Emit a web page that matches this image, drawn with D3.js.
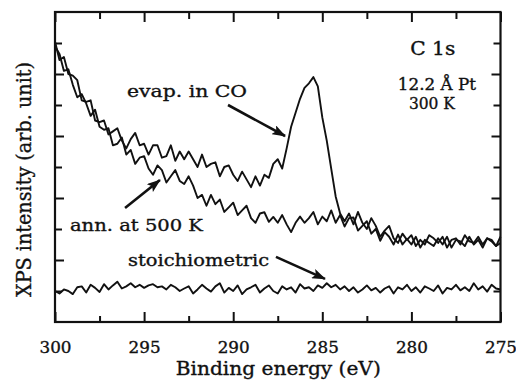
<!DOCTYPE html>
<html>
<head>
<meta charset="utf-8">
<script src="https://cdnjs.cloudflare.com/ajax/libs/d3/7.8.5/d3.min.js"></script>
<style>
  body { margin: 0; background: #fff; }
  svg text { font-family: "DejaVu Serif", "Liberation Serif", serif; fill: #111; stroke: #111; stroke-width: 0.35px; }
</style>
</head>
<body>
<div id="chart"></div>
<script>
// Chart size
var svgWidth = 516;
var svgHeight = 383;

var margin = { top: 12, right: 15.5, bottom: 61, left: 55 };
var width = svgWidth - margin.left - margin.right;
var height = svgHeight - margin.top - margin.bottom;

var serif = '"DejaVu Serif", "Liberation Serif", serif';

// Binding energy grid: 300 eV down to 275 eV, 0.25 eV step
var eStart = 300;
var eStep = 0.25;

// C 1s spectra (arb. units)
var evapCO = [
  9.05, 8.45, 8.55, 8.0, 7.95, 7.8, 7.15, 7.1, 7.15, 6.5,
  6.45, 6.5, 6.05, 6.15, 6.25, 5.85, 5.6, 5.9, 6.1, 5.7,
  5.75, 5.4, 5.7, 5.7, 5.3, 5.35, 5.7, 5.2, 5.5, 5.25,
  5.5, 5.25, 5.0, 5.4, 5.0, 5.1, 5.15, 4.7, 5.0, 5.05,
  4.75, 4.55, 4.85, 4.6, 4.35, 4.7, 4.4, 4.75, 4.65, 5.1,
  5.25, 4.95, 5.6, 6.3, 6.75, 7.2, 7.55, 7.7, 7.9, 7.6,
  6.6, 5.85, 4.95, 4.05, 3.5, 3.25, 3.5, 3.15, 3.55, 3.2,
  3.0, 3.35, 3.1, 2.75, 2.95, 3.1, 2.7, 2.55, 2.85, 2.65,
  2.8, 2.45, 2.65, 2.5, 2.8, 2.7, 2.55, 2.75, 2.4, 2.65,
  2.7, 2.5, 2.8, 2.6, 2.55, 2.75, 2.5, 2.7, 2.65, 2.45,
  2.75
];

var ann500 = [
  8.9, 8.65, 8.1, 8.15, 7.65, 7.25, 7.35, 7.05, 6.65, 6.85,
  6.3, 6.2, 6.25, 5.7, 5.75, 5.95, 5.4, 5.55, 5.1, 5.3,
  5.35, 4.95, 4.75, 5.05, 4.9, 4.5, 4.7, 4.9, 4.55, 4.45,
  4.7, 4.4, 4.0, 4.1, 3.75, 4.1, 3.8, 3.95, 3.55, 3.7,
  3.85, 3.45, 3.6, 3.75, 3.35, 3.2, 3.5, 3.54, 3.23, 3.39,
  3.2, 3.45, 3.15, 2.9, 3.2, 3.4, 3.2, 3.35, 3.55, 3.15,
  3.4, 3.25, 3.6, 3.2, 3.45, 3.08, 3.35, 3.37, 2.95, 3.1,
  3.25, 2.85, 3.0, 2.62, 2.9, 2.75, 2.5, 2.82, 2.5, 2.68,
  2.5, 2.75, 2.4, 2.65, 2.55, 2.45, 2.7, 2.5, 2.75, 2.4,
  2.65, 2.6, 2.45, 2.75, 2.5, 2.65, 2.4, 2.7, 2.6, 2.45,
  2.55
];

var stoich = [
  1.0, 0.92, 1.05, 1.0, 0.9, 1.12, 1.15, 0.95, 1.2, 1.1,
  0.97, 1.22, 1.05, 1.18, 1.3, 1.08, 1.15, 1.25, 1.12, 1.2,
  1.1, 1.18, 1.22, 1.12, 1.15, 1.05, 1.2, 1.12, 1.0, 1.08,
  1.15, 0.92, 1.05, 1.2, 1.08, 0.98, 1.15, 1.25, 0.95, 1.1,
  1.0, 1.18, 0.9, 1.05, 1.12, 1.2, 0.95, 1.08, 1.18, 1.0,
  0.92, 1.15, 1.05, 1.12, 0.95, 1.22, 1.08, 1.12, 1.0, 1.18,
  1.1, 1.25, 1.12, 1.2, 1.05, 1.15, 1.0, 1.12, 0.95, 1.05,
  1.18, 1.02, 1.1, 0.95, 1.08, 1.15, 0.92, 1.12, 1.05, 1.2,
  1.0, 1.12, 0.95, 1.15, 1.08, 1.0, 1.18, 0.92, 1.1, 1.05,
  1.2, 1.02, 1.12, 1.0, 1.25, 1.05, 1.15, 0.98, 1.2, 1.08,
  1.05
];

// Axis ticks
var xMajorTicks = [300, 295, 290, 285, 280, 275];
var xMinorTicks = [297.5, 292.5, 287.5, 282.5, 277.5];
var yMajorTicks = [2, 4, 6, 8];
var yMinorTicks = [1, 3, 5, 7, 9];

// Text labels [text, energy, intensity, anchor, font size, width]
var labels = [
  ["evap. in CO", 295.96, 7.26, "start", 17, 120],
  ["ann. at 500 K", 299.16, 2.94, "start", 17, 133],
  ["stoichiometric", 295.9, 1.81, "start", 17, 141],
  ["C 1s", 278.8, 8.61, "middle", 18, 45],
  ["12.2 \u00C5 Pt", 278.57, 7.48, "middle", 16, 78],
  ["300 K", 278.85, 6.87, "middle", 16, 46]
];

// Arrows [fromE, fromI, toE, toI]
var arrows = [
  [290.29, 7.0, 287.09, 6.0],
  [296.07, 3.68, 294.11, 4.58],
  [287.6, 2.1, 284.85, 1.39]
];

// Create an SVG wrapper
var svg = d3.select("#chart")
  .append("svg")
  .attr("width", svgWidth)
  .attr("height", svgHeight);

var chart = svg.append("g")
  .attr("transform", `translate(${margin.left}, ${margin.top})`);

// Scales
var xScale = d3.scaleLinear().domain([300, 275]).range([0, width]);
var yScale = d3.scaleLinear().domain([0, 10]).range([height, 0]);

function energyAt(i) { return eStart - eStep * i; }

// Axes (ticks point inward)
function styleAxis(g) {
  g.attr("font-family", serif);
  g.select(".domain").remove();
  g.selectAll(".tick line").attr("stroke", "#111").attr("stroke-width", 2);
}

chart.append("g")
  .attr("transform", `translate(0, ${height})`)
  .call(d3.axisBottom(xScale).tickValues(xMajorTicks).tickSize(-10).tickPadding(20)
    .tickFormat(d3.format("d")))
  .call(styleAxis)
  .selectAll("text")
  .style("font-size", "16px")
  .style("font-family", serif)
  .attr("fill", "#111")
  .attr("textLength", 32)
  .attr("lengthAdjust", "spacingAndGlyphs");

chart.append("g")
  .attr("transform", `translate(0, ${height})`)
  .call(d3.axisBottom(xScale).tickValues(xMinorTicks).tickSize(-6).tickFormat(""))
  .call(styleAxis);

chart.append("g")
  .call(d3.axisTop(xScale).tickValues(xMajorTicks).tickSize(-10).tickFormat(""))
  .call(styleAxis);

chart.append("g")
  .call(d3.axisTop(xScale).tickValues(xMinorTicks).tickSize(-7).tickFormat(""))
  .call(styleAxis);

chart.append("g")
  .call(d3.axisLeft(yScale).tickValues(yMajorTicks).tickSize(-9).tickFormat(""))
  .call(styleAxis);

chart.append("g")
  .call(d3.axisLeft(yScale).tickValues(yMinorTicks).tickSize(-7).tickFormat(""))
  .call(styleAxis);

chart.append("g")
  .attr("transform", `translate(${width}, 0)`)
  .call(d3.axisRight(yScale).tickValues(yMajorTicks).tickSize(-9).tickFormat(""))
  .call(styleAxis);

chart.append("g")
  .attr("transform", `translate(${width}, 0)`)
  .call(d3.axisRight(yScale).tickValues(yMinorTicks).tickSize(-7).tickFormat(""))
  .call(styleAxis);

// Frame
chart.append("rect")
  .attr("width", width)
  .attr("height", height)
  .attr("fill", "none")
  .attr("stroke", "#111")
  .attr("stroke-width", 2.2);

// Spectra
var line = d3.line()
  .x((d, i) => xScale(energyAt(i)))
  .y(d => yScale(d));

[stoich, ann500, evapCO].forEach(function(series) {
  chart.append("path")
    .datum(series)
    .attr("d", line)
    .attr("fill", "none")
    .attr("stroke", "#111")
    .attr("stroke-width", 1.9)
    .attr("stroke-linejoin", "round");
});

// Arrow heads
svg.append("defs").append("marker")
  .attr("id", "head")
  .attr("markerUnits", "userSpaceOnUse")
  .attr("viewBox", "0 0 14 10")
  .attr("refX", 13)
  .attr("refY", 5)
  .attr("markerWidth", 14)
  .attr("markerHeight", 10)
  .attr("orient", "auto")
  .append("path")
  .attr("d", "M0,0 L14,5 L0,10 L3,5 Z")
  .attr("fill", "#111");

chart.selectAll(".arrow")
  .data(arrows)
  .enter()
  .append("line")
  .attr("class", "arrow")
  .attr("x1", d => xScale(d[0]))
  .attr("y1", d => yScale(d[1]))
  .attr("x2", d => xScale(d[2]))
  .attr("y2", d => yScale(d[3]))
  .attr("stroke", "#111")
  .attr("stroke-width", 2.6)
  .attr("marker-end", "url(#head)");

// Annotations
chart.selectAll(".note")
  .data(labels)
  .enter()
  .append("text")
  .attr("class", "note")
  .attr("x", d => d[3] === "middle" ? xScale(d[1]) - d[5] / 2 : xScale(d[1]))
  .attr("y", d => yScale(d[2]))
  .style("font-family", serif)
  .style("font-size", d => d[4] + "px")
  .attr("textLength", d => d[5])
  .attr("lengthAdjust", "spacingAndGlyphs")
  .text(d => d[0]);

// Axis titles
chart.append("text")
  .attr("x", xScale(287.5) - 102)
  .attr("y", height + 53)
  .style("font-family", serif)
  .style("font-size", "19px")
  .attr("textLength", 205)
  .attr("lengthAdjust", "spacingAndGlyphs")
  .text("Binding energy (eV)");

chart.append("text")
  .attr("transform", "rotate(-90)")
  .attr("x", -(height - 25))
  .attr("y", -24)
  .style("font-family", serif)
  .style("font-size", "20px")
  .attr("textLength", 235)
  .attr("lengthAdjust", "spacingAndGlyphs")
  .text("XPS intensity (arb. unit)");
</script>
</body>
</html>
